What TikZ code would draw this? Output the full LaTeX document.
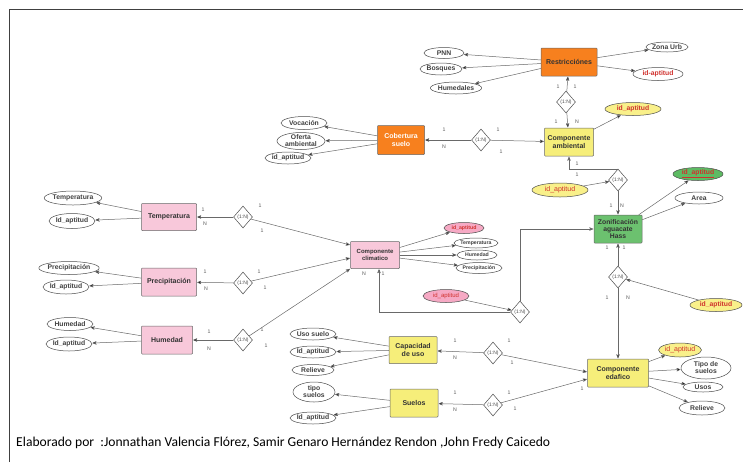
\documentclass[tikz,border=0pt]{standalone}
\usepackage{fontspec}
\setmainfont{Liberation Sans}
\newfontfamily\creditfont{Carlito}
\usetikzlibrary{arrows,shapes.geometric}
\definecolor{ent orange}{RGB}{247,128,30}
\definecolor{ent yellow}{RGB}{246,238,122}
\definecolor{ent pink}{RGB}{248,200,218}
\definecolor{ent green}{RGB}{108,193,111}
\definecolor{att yellow}{RGB}{249,240,138}
\definecolor{att pink}{RGB}{246,169,196}
\definecolor{att green}{RGB}{93,187,99}
\definecolor{idred}{RGB}{208,49,45}
\definecolor{wire}{RGB}{105,105,105}
\tikzstyle{entity} = [draw=black!60,rounded corners=0.8pt,align=center,inner sep=0pt,
                      font=\bfseries\fontsize{7}{7.8}\selectfont,text=black!80]
\tikzstyle{attr}   = [draw=black!70,ellipse,align=center,inner sep=0pt,fill=white,
                      font=\bfseries\fontsize{6.8}{7}\selectfont,text=black!75]
\tikzstyle{small}  = [font=\bfseries\fontsize{5.2}{5.6}\selectfont]
\tikzstyle{idattr} = [text=idred]
\tikzstyle{rel}    = [draw=black!70,diamond,fill=white,inner sep=0pt,minimum width=19pt,
                      minimum height=22pt,font=\fontsize{5}{5.5}\selectfont,text=black!70]
\tikzstyle{card}   = [font=\fontsize{5.2}{5.5}\selectfont,text=black!65,inner sep=0pt]

\begin{document}
\begin{tikzpicture}[x=1pt,y=-1pt,>=stealth',shorten >=0.5pt,line width=0.5pt]
\useasboundingbox (0,0) rectangle (743,467);
\draw[black!75,line width=1pt] (9,462) -- (9,9) -- (743,9);

% entidades
\node[entity,fill=ent orange,minimum width=56pt,minimum height=28pt] (restr) at (569,62) {Restricciónes};
\node[entity,fill=ent yellow,minimum width=49pt,minimum height=28pt] (camb) at (569,142) {Componente\\ambiental};
\node[entity,fill=ent orange,minimum width=47pt,minimum height=29pt,text=white] (cober) at (401,140) {Cobertura\\suelo};
\node[entity,fill=ent pink,minimum width=49pt,minimum height=27pt,font=\bfseries\fontsize{6}{7}\selectfont] (cclim) at (375,255) {Componente\\climatico};
\node[entity,fill=ent pink,minimum width=55pt,minimum height=27pt] (temp) at (169,217) {Temperatura};
\node[entity,fill=ent pink,minimum width=55pt,minimum height=28pt] (prec) at (169,282) {Precipitación};
\node[entity,fill=ent pink,minimum width=51pt,minimum height=28pt] (hume) at (167,340) {Humedad};
\node[entity,fill=ent green,minimum width=48pt,minimum height=28pt,font=\bfseries\fontsize{6.8}{7.2}\selectfont] (zon) at (618,229) {Zonificación\\aguacate\\Hass};
\node[entity,fill=ent yellow,minimum width=61pt,minimum height=28pt] (cedaf) at (618,373) {Componente\\edafico};
\node[entity,fill=ent yellow,minimum width=48pt,minimum height=27pt] (capac) at (413,350) {Capacidad\\de uso};
\node[entity,fill=ent yellow,minimum width=48pt,minimum height=28pt] (suelos) at (414,403) {Suelos};

% relaciones
\node[rel] (dra) at (566,102) {(1:N)};
\node[rel] (dac) at (481,140) {(1:N)};
\node[rel] (dtc) at (243,217) {(1:N)};
\node[rel] (dpc) at (243,283) {(1:N)};
\node[rel] (dhc) at (243,340) {(1:N)};
\node[rel] (dcz) at (520,312) {(1:N)};
\node[rel] (dza) at (618,180) {(1:N)};
\node[rel] (dze) at (618,277) {(1:N)};
\node[rel] (dce) at (493,353) {(1:N)};
\node[rel] (dse) at (493,405) {(1:N)};

% atributos
\node[attr,minimum width=40pt,minimum height=11pt] (pnn) at (444,53) {PNN};
\node[attr,minimum width=42pt,minimum height=12pt] (bosq) at (441,69) {Bosques};
\node[attr,minimum width=48pt,minimum height=12pt] (humd) at (456,88) {Humedales};
\node[attr,minimum width=40pt,minimum height=10pt] (zurb) at (667,47) {Zona Urb};
\node[attr,idattr,minimum width=50pt,minimum height=13pt] (ridap) at (658,74) {id-aptitud};
\node[attr,idattr,fill=att yellow,minimum width=56pt,minimum height=13pt] (caid) at (633,109) {id\_aptitud};
\node[attr,minimum width=46pt,minimum height=13pt] (voc) at (304,123) {Vocación};
\node[attr,minimum width=48pt,minimum height=17pt] (ofam) at (301,141) {Oferta\\ambiental};
\node[attr,minimum width=44pt,minimum height=12pt] (coid) at (288,158) {id\_aptitud};
\node[attr,small,idattr,fill=att pink,minimum width=40pt,minimum height=11pt] (clid) at (464,228) {id\_aptitud};
\node[attr,small,minimum width=40pt,minimum height=10pt] (cltm) at (476,243) {Temperatura};
\node[attr,small,minimum width=40pt,minimum height=10pt] (clhm) at (477,255) {Humedad};
\node[attr,small,minimum width=42pt,minimum height=11pt] (clpr) at (479,268) {Precipitación};
\node[attr,minimum width=52pt,minimum height=14pt] (tmat) at (73,198) {Temperatura};
\node[attr,minimum width=46pt,minimum height=15pt] (tmid) at (72,221) {Id\_aptitud};
\node[attr,minimum width=58pt,minimum height=13pt] (prat) at (69,268) {Precipitación};
\node[attr,minimum width=46pt,minimum height=14pt] (prid) at (66,287) {Id\_aptitud};
\node[attr,minimum width=46pt,minimum height=13pt] (hmat) at (70,324) {Humedad};
\node[attr,minimum width=46pt,minimum height=14pt] (hmid) at (69,344) {Id\_aptitud};
\node[attr,idattr,fill=att pink,font=\fontsize{6}{6.5}\selectfont,minimum width=46pt,minimum height=13pt] (czid) at (446,296) {id\_aptitud};
\node[attr,idattr,fill=att yellow,font=\fontsize{7}{7.5}\selectfont,minimum width=56pt,minimum height=14pt] (zaid) at (560,190) {id\_aptitud};
\node[attr,idattr,fill=att green,minimum width=50pt,minimum height=13pt] (zid) at (698,174) {\underline{id\_aptitud}};
\node[attr,minimum width=48pt,minimum height=12pt] (zarea) at (699,198) {Area};
\node[attr,idattr,fill=att yellow,minimum width=52pt,minimum height=13pt] (zeid) at (716,305) {id\_aptitud};
\node[attr,idattr,fill=att yellow,font=\fontsize{7}{7.5}\selectfont,minimum width=40pt,minimum height=14pt] (edid) at (680,350) {id\_aptitud};
\node[attr,minimum width=50pt,minimum height=22pt] (edts) at (706,368) {Tipo de\\suelos};
\node[attr,minimum width=40pt,minimum height=10pt] (edus) at (703,387) {Usos};
\node[attr,minimum width=46pt,minimum height=14pt] (edrl) at (702,408) {Relieve};
\node[attr,minimum width=44pt,minimum height=12pt] (cpus) at (313,334) {Uso suelo};
\node[attr,minimum width=44pt,minimum height=12pt] (cpid) at (313,352) {Id\_aptitud};
\node[attr,minimum width=42pt,minimum height=11pt] (cprl) at (313,370) {Relieve};
\node[attr,minimum width=42pt,minimum height=20pt] (slts) at (314,392) {tipo\\suelos};
\node[attr,minimum width=44pt,minimum height=12pt] (slid) at (313,418) {Id\_aptitud};

% cardinalidades
\foreach \t/\x/\y [count=\i] in {1/558/87,1/575/87,1/556/122,N/577/122,
    1/444/130,N/444/147,1/498/130,1/501/152,
    1/203/210,N/205/224,1/260/206,1/262/231,
    1/205/272,N/206/289,1/259/272,1/265/288,
    1/209/332,N/209/349,1/262/330,1/266/346,
    N/364/274,1/383/274,
    1/577/164,1/577/175,1/611/206,N/622/206,
    1/607/248,1/624/248,1/607/298,N/628/298,
    1/455/341,N/455/358,1/509/341,1/512/363,
    1/455/393,N/455/410,1/509/393,1/515/409,
    1/582/389}
  \node[card] (k\i) at (\x,\y) {\t};

% atributos de cada entidad
\path[->,draw=wire]
    (restr) edge (pnn)  (restr) edge (bosq)  (restr) edge (humd)
    (restr) edge (zurb) (restr) edge (ridap)
    (camb)  edge (caid)
    (cober) edge (voc)  (cober) edge (ofam)  (cober) edge (coid)
    (cclim) edge (clid) (cclim) edge (cltm)  (cclim) edge (clhm) (cclim) edge (clpr)
    (temp)  edge (tmat) (temp)  edge (tmid)
    (prec)  edge (prat) (prec)  edge (prid)
    (hume)  edge (hmat) (hume)  edge (hmid)
    (zon)   edge (zid)  (zon)   edge (zarea)
    (cedaf) edge (edid) (cedaf) edge (edts)  (cedaf) edge (edus) (cedaf) edge (edrl)
    (capac) edge (cpus) (capac) edge (cpid)  (capac) edge (cprl)
    (suelos) edge (slts) (suelos) edge (slid);

% relaciones
\path[->,draw=wire]
    (dra) edge (restr)  (dra) edge (camb)
    (dac) edge (cober)  (dac) edge (camb)
    (dtc) edge (temp)   (dtc) edge ([yshift=10pt]cclim.west)
    (dpc) edge (prec)   (dpc) edge ([yshift=-3pt]cclim.west)
    (dhc) edge (hume)   (dhc) edge (cclim.south west)
    (dza) edge (zon)
    (dze) edge (zon)    (dze) edge (cedaf)
    (dce) edge (capac)  (dce) edge ([yshift=1pt]cedaf.west)
    (dse) edge (suelos) (dse) edge ([yshift=-6pt]cedaf.west)
    (czid) edge (dcz)   (zaid) edge (dza)   (zeid) edge (dze);
\draw[->,wire] (dcz.west) -| ([xshift=4pt]cclim.south);
\draw[->,wire] (dcz.north) |- (zon.west);
\draw[->,wire] (dza.north) -| (camb.south);

\node[anchor=west,inner sep=0pt,font=\creditfont\fontsize{13.6}{14}\selectfont] (credit) at (16,443)
  {Elaborado por\ \ :Jonnathan Valencia Flórez, Samir Genaro Hernández Rendon ,John Fredy Caicedo};
\end{tikzpicture}
\end{document}
